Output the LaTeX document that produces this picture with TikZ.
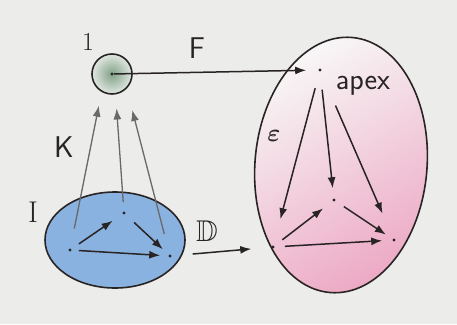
\documentclass[tikz,border=0pt]{standalone}
\usepackage{amsmath,amssymb,bm}
\usetikzlibrary{
  arrows.meta,
  positioning,
  shapes.geometric
}
\definecolor{paper}{RGB}{236,236,234}
\definecolor{ink}{RGB}{40,36,36}
\definecolor{pencil}{RGB}{105,105,105}
\definecolor{wash}{RGB}{138,178,224}
\definecolor{rose}{RGB}{222,100,150}
\definecolor{sage}{RGB}{130,160,135}

\begin{document}
\begin{tikzpicture}[x=1pt, y=-1pt,
  vertex/.style={circle, fill=ink, inner sep=0pt, minimum size=3.2pt},
  blob/.style={ellipse, draw=ink, line width=1.6pt, inner sep=0pt},
  arrow/.style={-{Latex[length=11pt,width=8pt]}, line width=1.5pt, draw=ink},
  cone/.style={arrow, draw=pencil, line width=1.3pt},
  hand/.style={font=\fontsize{30}{34}\selectfont\sffamily, text=ink, inner sep=0pt}
]
  % paper
  \fill[paper] (0,0) rectangle (457,324);
  \useasboundingbox (0,0) rectangle (457,324);

  % blobs
  \node[blob, fill=wash, minimum width=140pt, minimum height=96pt] (iblob) at (115,240) {};
  \node[blob, rotate=-5, top color=paper!40!white, middle color=rose!5, bottom color=rose!55,
        shading angle=30, minimum width=172pt, minimum height=256pt] (eblob) at (341,165) {};

  % terminal object
  \node[circle, draw=ink, line width=1.6pt, inner color=sage, outer color=sage!25!white,
        minimum size=40pt, inner sep=0pt] (one) at (112,74) {};
  \node[vertex] (onedot) at (one.center) {};

  % diagram I
  \node[vertex] (il) at (70,250) {};
  \node[vertex] (it) at (124,213) {};
  \node[vertex] (ir) at (170,256) {};

  % cone over D
  \node[vertex] (apex) at (320,70) {};
  \node[vertex] (el) at (273,247) {};
  \node[vertex] (em) at (334,200) {};
  \node[vertex] (er) at (394,240) {};

  % labels
  \node[hand, font=\fontsize{26}{30}\selectfont\rmfamily] (lblone) at (88,42) {1};
  \node[hand] (lblF) at (197,48) {F};
  \node[hand] (lblK) at (64,147) {K};
  \node[hand, font=\fontsize{30}{34}\selectfont\rmfamily] (lblI) at (33,212) {I};
  \node[hand] (lblD) at (207,231) {$\mathbb{D}$};
  \node[hand, font=\fontsize{44}{48}\selectfont] (lbleps) at (274,136) {$\bm{\varepsilon}$};
  \node[hand] (lblapex) at (363,86) {apex};

  % arrows inside I
  \draw[arrow, shorten <=9pt, shorten >=12pt] (il) -- (it);
  \draw[arrow, shorten <=12pt, shorten >=8pt] (it) -- (ir);
  \draw[arrow, shorten <=7pt, shorten >=8pt] (il) -- (ir);

  % K arrows
  \draw[cone, shorten <=20pt, shorten >=14pt] (il) -- (one.240);
  \draw[cone, shorten <=9pt, shorten >=14pt] (it) -- (one.280);
  \draw[cone, shorten <=21pt, shorten >=22pt] (ir) -- (one.315);

  % F and D
  \draw[arrow, shorten >=12pt] (onedot) -- (apex);
  \draw[arrow, shorten <=21pt, shorten >=20pt] (ir) -- (el);

  % cone legs
  \draw[arrow, shorten <=17pt, shorten >=27pt] (apex) -- (el);
  \draw[arrow, shorten <=18pt, shorten >=10pt] (apex) -- (em);
  \draw[arrow, shorten <=37pt, shorten >=27pt] (apex) -- (er);

  % arrows inside D
  \draw[arrow, shorten <=10pt, shorten >=12pt] (el) -- (em);
  \draw[arrow, shorten <=10pt, shorten >=8pt] (em) -- (er);
  \draw[arrow, shorten <=10pt, shorten >=10pt] (el) -- (er);
\end{tikzpicture}
\end{document}
